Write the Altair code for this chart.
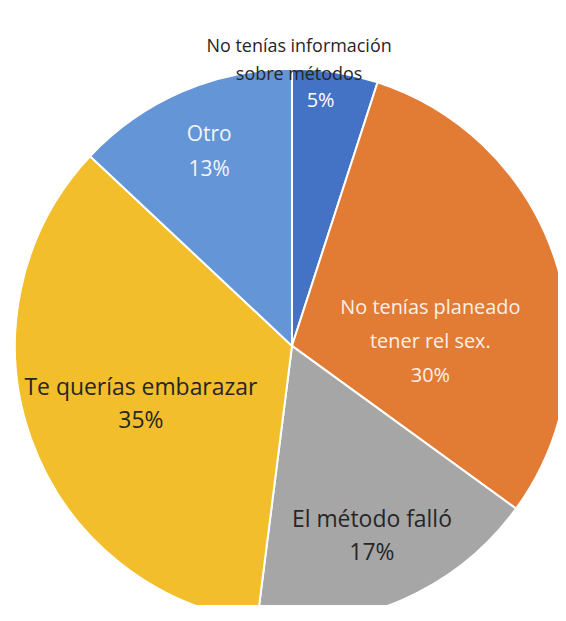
import math
import altair as alt
import pandas as pd

# ---- data ----
categories = [
    "No tenías información sobre métodos",
    "No tenías planeado tener rel sex.",
    "El método falló",
    "Te querías embarazar",
    "Otro",
]
values = [5, 30, 17, 35, 13]
label_names = [
    "No tenías información\nsobre métodos",
    "No tenías planeado\ntener rel sex.",
    "El método falló",
    "Te querías embarazar",
    "Otro",
]
colors = ["#4472C4", "#E27B34", "#A6A6A6", "#F2BE2B", "#6495D6"]

df = pd.DataFrame({
    "cat": categories,
    "value": values,
    "idx": list(range(len(categories))),
    "name": label_names,
    "pct": [f"{v}%" for v in values],
})
df["full"] = df["name"] + "\n" + df["pct"]
total = sum(values)

CX, CY, R = 285, 338, 278
FONT = "Open Sans"

pie = alt.Chart(df).mark_arc(
    outerRadius=R, stroke="white", strokeWidth=2, clip=True
).encode(
    theta=alt.Theta("value:Q", stack=True),
    order=alt.Order("idx:Q", sort="ascending"),
    x=alt.value(CX),
    y=alt.value(CY),
    color=alt.Color(
        "cat:N",
        scale=alt.Scale(domain=categories, range=colors),
        legend=None,
    ),
)

# (slice index, text field, radius, dx, dy, colour, font size, line height)
label_specs = [
    (0, "name", 295, -39, -9, "#262626", 18, 29),
    (0, "pct", 248, -10, -1, "#FFFFFF", 20, 30),
    (1, "full", 145, 1, 7, "#FAF0E8", 20, 34),
    (2, "full", 192, 4, -1, "#262626", 23, 33),
    (3, "full", 158, -3, -11, "#262626", 23, 33),
    (4, "full", 227, 7, -3, "#F2F5FC", 21, 35),
]

labels_base = alt.Chart(df).transform_window(
    cum="sum(value)", sort=[alt.SortField("idx", order="ascending")]
).transform_calculate(
    mid="datum.cum - datum.value / 2"
)

layers = [pie]
for i, field, rad, dx, dy, col, fs, lh in label_specs:
    layers.append(
        labels_base.transform_filter(f"datum.idx == {i}").mark_text(
            radius=rad,
            dx=dx,
            dy=dy,
            font=FONT,
            fontSize=fs,
            lineBreak="\n",
            lineHeight=lh,
            align="center",
            baseline="middle",
            color=col,
        ).encode(
            theta=alt.Theta(
                "mid:Q",
                scale=alt.Scale(domain=[0, total], range=[0, 2 * math.pi]),
            ),
            x=alt.value(CX),
            y=alt.value(CY),
            text=alt.Text(f"{field}:N"),
        )
    )

chart = alt.layer(*layers).resolve_scale(theta="independent").properties(
    width=552,
    height=598,
    padding=0,
).configure_view(stroke=None)

chart.save("out.html", embed_options={"renderer": "svg", "actions": False})
